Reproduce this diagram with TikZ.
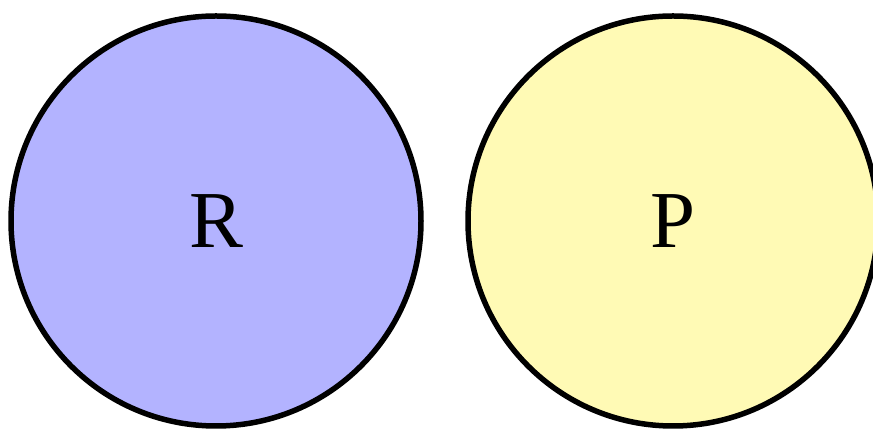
\documentclass[tikz,border=0pt]{standalone}
\usepackage{fontspec}
\setmainfont{Liberation Serif}
\usepackage{xcolor}
\definecolor{setblue}{HTML}{B3B3FF}
\definecolor{setyellow}{HTML}{FFFAB5}
\usepackage{tikz}
\usetikzlibrary{positioning}

\begin{document}
\begin{tikzpicture}[
  setdisc/.style={circle,draw=black,line width=0.11cm,minimum size=8.2cm,inner sep=0pt,
    font=\fontsize{46}{55}\selectfont}]
  \useasboundingbox (0,0) rectangle (17.46,8.58);
  % the two sets
  \node[setdisc,fill=setblue] (R) at (4.32,4.16) {R};
  \node[setdisc,fill=setyellow] (P) at (13.46,4.16) {P};
\end{tikzpicture}
\end{document}
